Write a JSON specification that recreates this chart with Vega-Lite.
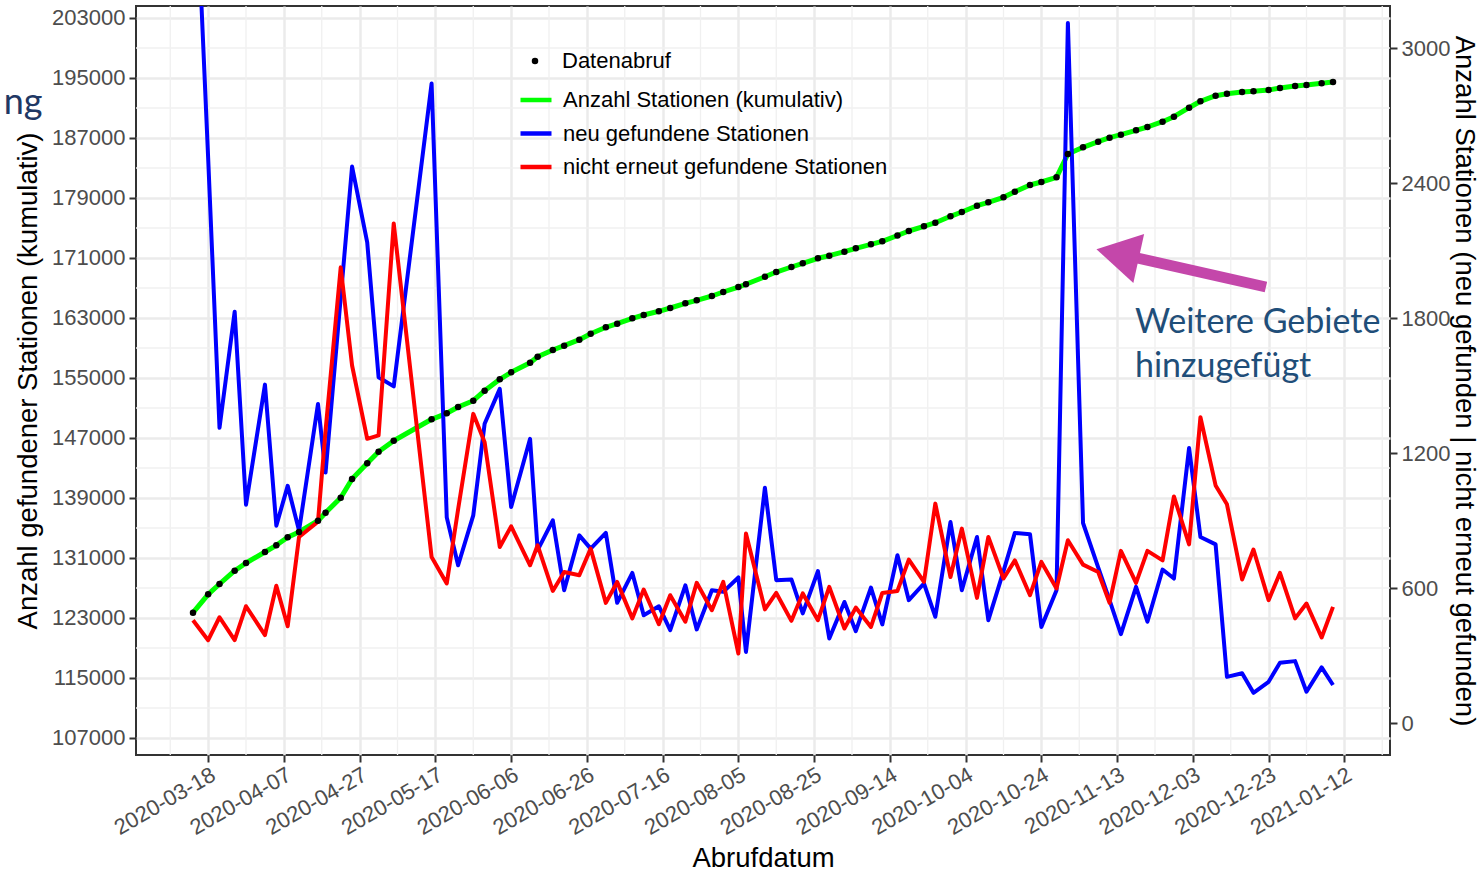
{
  "$schema": "https://vega.github.io/schema/vega-lite/v6.json",
  "width": 1254,
  "height": 749,
  "autosize": {"type": "none"},
  "padding": {"left": 136, "top": 6, "right": 91, "bottom": 119},
  "background": "white",
  "config": {
    "font": "Liberation Sans",
    "view": {"stroke": "#333333", "strokeWidth": 2},
    "axis": {
      "labelFont": "Liberation Sans", "labelFontSize": 22, "labelColor": "#4d4d4d",
      "tickColor": "#333333", "tickSize": 7, "tickWidth": 2, "domain": false,
      "titleFont": "Liberation Sans", "titleFontSize": 27.5, "titleFontWeight": "normal", "titleColor": "#000000",
      "gridColor": "#ebebeb", "gridWidth": 2.5
    },
    "legend": {
      "labelFont": "Liberation Sans", "labelFontSize": 22, "labelColor": "#000000", "padding": 0, "labelLimit": 0
    }
  },
  "datasets": {
    "stations": [
      {"date": "2020-03-14", "kum": 123707, "neu": 4050, "nicht": 457},
      {"date": "2020-03-18", "kum": 126160, "neu": 2512, "nicht": 368},
      {"date": "2020-03-21", "kum": 127533, "neu": 1312, "nicht": 470},
      {"date": "2020-03-25", "kum": 129307, "neu": 1828, "nicht": 368},
      {"date": "2020-03-28", "kum": 130333, "neu": 970, "nicht": 519},
      {"date": "2020-04-02", "kum": 131800, "neu": 1504, "nicht": 391},
      {"date": "2020-04-05", "kum": 132693, "neu": 877, "nicht": 610},
      {"date": "2020-04-08", "kum": 133760, "neu": 1054, "nicht": 430},
      {"date": "2020-04-11", "kum": 134467, "neu": 855, "nicht": 827},
      {"date": "2020-04-16", "kum": 135973, "neu": 1418, "nicht": 895},
      {"date": "2020-04-18", "kum": 137040, "neu": 1113, "nicht": 1300},
      {"date": "2020-04-22", "kum": 139040, "neu": 1891, "nicht": 2025},
      {"date": "2020-04-25", "kum": 141533, "neu": 2473, "nicht": 1589},
      {"date": "2020-04-29", "kum": 143627, "neu": 2136, "nicht": 1263},
      {"date": "2020-05-02", "kum": 145173, "neu": 1537, "nicht": 1278},
      {"date": "2020-05-06", "kum": 146640, "neu": 1496, "nicht": 2220},
      {"date": "2020-05-16", "kum": 149493, "neu": 2842, "nicht": 738},
      {"date": "2020-05-20", "kum": 150293, "neu": 914, "nicht": 620},
      {"date": "2020-05-23", "kum": 151133, "neu": 701, "nicht": 950},
      {"date": "2020-05-27", "kum": 151973, "neu": 923, "nicht": 1374},
      {"date": "2020-05-30", "kum": 153307, "neu": 1330, "nicht": 1248},
      {"date": "2020-06-03", "kum": 154827, "neu": 1485, "nicht": 782},
      {"date": "2020-06-06", "kum": 155760, "neu": 960, "nicht": 874},
      {"date": "2020-06-11", "kum": 157040, "neu": 1263, "nicht": 701},
      {"date": "2020-06-13", "kum": 157840, "neu": 768, "nicht": 790},
      {"date": "2020-06-17", "kum": 158733, "neu": 901, "nicht": 587},
      {"date": "2020-06-20", "kum": 159307, "neu": 590, "nicht": 671},
      {"date": "2020-06-24", "kum": 160107, "neu": 834, "nicht": 657},
      {"date": "2020-06-27", "kum": 160907, "neu": 775, "nicht": 775},
      {"date": "2020-07-01", "kum": 161760, "neu": 845, "nicht": 534},
      {"date": "2020-07-04", "kum": 162240, "neu": 534, "nicht": 627},
      {"date": "2020-07-08", "kum": 162960, "neu": 667, "nicht": 465},
      {"date": "2020-07-11", "kum": 163400, "neu": 479, "nicht": 593},
      {"date": "2020-07-15", "kum": 163893, "neu": 519, "nicht": 439},
      {"date": "2020-07-18", "kum": 164333, "neu": 413, "nicht": 568},
      {"date": "2020-07-22", "kum": 164960, "neu": 612, "nicht": 450},
      {"date": "2020-07-25", "kum": 165360, "neu": 416, "nicht": 623},
      {"date": "2020-07-29", "kum": 165933, "neu": 590, "nicht": 501},
      {"date": "2020-08-01", "kum": 166467, "neu": 583, "nicht": 627},
      {"date": "2020-08-05", "kum": 167133, "neu": 647, "nicht": 309},
      {"date": "2020-08-07", "kum": 167493, "neu": 316, "nicht": 842},
      {"date": "2020-08-12", "kum": 168507, "neu": 1046, "nicht": 505},
      {"date": "2020-08-15", "kum": 169133, "neu": 635, "nicht": 578},
      {"date": "2020-08-19", "kum": 169800, "neu": 638, "nicht": 454},
      {"date": "2020-08-22", "kum": 170293, "neu": 487, "nicht": 576},
      {"date": "2020-08-26", "kum": 170960, "neu": 675, "nicht": 457},
      {"date": "2020-08-29", "kum": 171307, "neu": 376, "nicht": 605},
      {"date": "2020-09-02", "kum": 171840, "neu": 538, "nicht": 420},
      {"date": "2020-09-05", "kum": 172293, "neu": 408, "nicht": 513},
      {"date": "2020-09-09", "kum": 172827, "neu": 602, "nicht": 427},
      {"date": "2020-09-12", "kum": 173227, "neu": 438, "nicht": 578},
      {"date": "2020-09-16", "kum": 174000, "neu": 746, "nicht": 587},
      {"date": "2020-09-19", "kum": 174600, "neu": 546, "nicht": 726},
      {"date": "2020-09-23", "kum": 175227, "neu": 620, "nicht": 627},
      {"date": "2020-09-26", "kum": 175707, "neu": 472, "nicht": 975},
      {"date": "2020-09-30", "kum": 176560, "neu": 893, "nicht": 649},
      {"date": "2020-10-03", "kum": 177133, "neu": 590, "nicht": 864},
      {"date": "2020-10-07", "kum": 177973, "neu": 827, "nicht": 556},
      {"date": "2020-10-10", "kum": 178427, "neu": 457, "nicht": 827},
      {"date": "2020-10-14", "kum": 179093, "neu": 675, "nicht": 642},
      {"date": "2020-10-17", "kum": 179840, "neu": 845, "nicht": 723},
      {"date": "2020-10-21", "kum": 180733, "neu": 839, "nicht": 568},
      {"date": "2020-10-24", "kum": 181133, "neu": 427, "nicht": 716},
      {"date": "2020-10-28", "kum": 181760, "neu": 590, "nicht": 598},
      {"date": "2020-10-31", "kum": 184867, "neu": 3111, "nicht": 812},
      {"date": "2020-11-04", "kum": 185760, "neu": 889, "nicht": 704},
      {"date": "2020-11-08", "kum": 186507, "neu": 692, "nicht": 671},
      {"date": "2020-11-11", "kum": 187040, "neu": 546, "nicht": 534},
      {"date": "2020-11-14", "kum": 187440, "neu": 395, "nicht": 765},
      {"date": "2020-11-18", "kum": 188027, "neu": 605, "nicht": 623},
      {"date": "2020-11-21", "kum": 188467, "neu": 450, "nicht": 765},
      {"date": "2020-11-25", "kum": 189173, "neu": 682, "nicht": 723},
      {"date": "2020-11-28", "kum": 189840, "neu": 642, "nicht": 1007},
      {"date": "2020-12-02", "kum": 191040, "neu": 1222, "nicht": 794},
      {"date": "2020-12-05", "kum": 191893, "neu": 827, "nicht": 1359},
      {"date": "2020-12-09", "kum": 192640, "neu": 794, "nicht": 1056},
      {"date": "2020-12-12", "kum": 192907, "neu": 205, "nicht": 972},
      {"date": "2020-12-16", "kum": 193133, "neu": 221, "nicht": 638},
      {"date": "2020-12-19", "kum": 193227, "neu": 134, "nicht": 771},
      {"date": "2020-12-23", "kum": 193400, "neu": 183, "nicht": 546},
      {"date": "2020-12-26", "kum": 193667, "neu": 268, "nicht": 667},
      {"date": "2020-12-30", "kum": 193933, "neu": 275, "nicht": 465},
      {"date": "2021-01-02", "kum": 194067, "neu": 139, "nicht": 531},
      {"date": "2021-01-06", "kum": 194293, "neu": 247, "nicht": 380},
      {"date": "2021-01-09", "kum": 194467, "neu": 169, "nicht": 516}
    ],
    "minor_x": [
      {"date": "2020-03-08"}, {"date": "2020-03-28"}, {"date": "2020-04-17"}, {"date": "2020-05-07"},
      {"date": "2020-05-27"}, {"date": "2020-06-16"}, {"date": "2020-07-06"}, {"date": "2020-07-26"},
      {"date": "2020-08-15"}, {"date": "2020-09-04"}, {"date": "2020-09-24"}, {"date": "2020-10-14"},
      {"date": "2020-11-03"}, {"date": "2020-11-23"}, {"date": "2020-12-13"}, {"date": "2021-01-02"},
      {"date": "2021-01-22"}
    ],
    "minor_y": [
      {"v": 111000}, {"v": 119000}, {"v": 127000}, {"v": 135000}, {"v": 143000}, {"v": 151000},
      {"v": 159000}, {"v": 167000}, {"v": 175000}, {"v": 183000}, {"v": 191000}, {"v": 199000}
    ],
    "one": [{}]
  },
  "resolve": {"scale": {"y": "independent"}},
  "layer": [
    {
      "layer": [
        {
          "data": {"name": "minor_x"},
          "mark": {"type": "rule", "color": "#f0f0f0", "strokeWidth": 1.3},
          "encoding": {
            "x": {"field": "date", "type": "temporal", "scale": {"type": "utc", "domain": [1582843680000, 1611450720000]}}
          }
        },
        {
          "data": {"name": "minor_y"},
          "mark": {"type": "rule", "color": "#f0f0f0", "strokeWidth": 1.3},
          "encoding": {
            "y": {"field": "v", "type": "quantitative", "scale": {"domain": [104733, 204600], "nice": false, "zero": false},
              "axis": {"orient": "left", "values": [107000, 115000, 123000, 131000, 139000, 147000, 155000, 163000, 171000, 179000, 187000, 195000, 203000], "format": "d", "title": "Anzahl gefundener Stationen (kumulativ)", "grid": true, "labelPadding": 4, "titlePadding": 9}}
          }
        },
        {
          "data": {"name": "stations"},
          "mark": {"type": "line", "strokeWidth": 5, "strokeJoin": "round", "clip": true},
          "encoding": {
            "x": {"field": "date", "type": "temporal", "scale": {"type": "utc", "domain": [1582843680000, 1611450720000]},
              "axis": {"values": [1584489600000, 1586217600000, 1587945600000, 1589673600000, 1591401600000, 1593129600000, 1594857600000, 1596585600000, 1598313600000, 1600041600000, 1601769600000, 1603497600000, 1605225600000, 1606953600000, 1608681600000, 1610409600000],
                "labelExpr": "utcFormat(datum.value, '%Y-%m-%d')", "labelAngle": -30, "labelAlign": "right", "labelBaseline": "top", "labelPadding": 2, "labelOverlap": false, "title": "Abrufdatum", "titlePadding": 6, "grid": true}},
            "y": {"field": "kum", "type": "quantitative", "scale": {"domain": [104733, 204600], "nice": false, "zero": false},
              "axis": {"orient": "left", "values": [107000, 115000, 123000, 131000, 139000, 147000, 155000, 163000, 171000, 179000, 187000, 195000, 203000], "format": "d", "title": "Anzahl gefundener Stationen (kumulativ)", "grid": true, "labelPadding": 4, "titlePadding": 9}},
            "color": {"datum": "Anzahl Stationen (kumulativ)", "type": "nominal",
              "scale": {"domain": ["Anzahl Stationen (kumulativ)", "neu gefundene Stationen", "nicht erneut gefundene Stationen"], "range": ["#00ff00", "#0000ff", "#ff0000"]},
              "legend": {"title": null, "orient": "none", "legendX": 382, "legendY": 76, "symbolType": "stroke", "symbolStrokeWidth": 4.5, "symbolSize": 961, "labelOffset": 9, "rowPadding": 4.5, "labelLimit": 0}}
          }
        }
      ]
    },
    {
      "data": {"name": "stations"},
      "layer": [
        {
          "mark": {"type": "line", "strokeWidth": 4, "strokeJoin": "round", "clip": true},
          "encoding": {
            "x": {"field": "date", "type": "temporal", "scale": {"type": "utc", "domain": [1582843680000, 1611450720000]}},
            "y": {"field": "neu", "type": "quantitative", "scale": {"domain": [-142.2, 3186.7], "nice": false, "zero": false},
              "axis": {"orient": "right", "values": [0, 600, 1200, 1800, 2400, 3000], "format": "d", "title": "Anzahl Stationen (neu gefunden | nicht erneut gefunden)", "grid": false, "labelPadding": 4, "titlePadding": 0}},
            "color": {"datum": "neu gefundene Stationen", "type": "nominal"}
          }
        },
        {
          "mark": {"type": "line", "strokeWidth": 4, "strokeJoin": "round", "clip": true},
          "encoding": {
            "x": {"field": "date", "type": "temporal", "scale": {"type": "utc", "domain": [1582843680000, 1611450720000]}},
            "y": {"field": "nicht", "type": "quantitative", "scale": {"domain": [-142.2, 3186.7], "nice": false, "zero": false},
              "axis": {"orient": "right", "values": [0, 600, 1200, 1800, 2400, 3000], "format": "d", "title": "Anzahl Stationen (neu gefunden | nicht erneut gefunden)", "grid": false, "labelPadding": 4, "titlePadding": 0}},
            "color": {"datum": "nicht erneut gefundene Stationen", "type": "nominal"}
          }
        }
      ]
    },
    {
      "layer": [
        {
          "data": {"name": "stations"},
          "mark": {"type": "point", "filled": true, "color": "#000000", "size": 42, "opacity": 1},
          "encoding": {
            "x": {"field": "date", "type": "temporal", "scale": {"type": "utc", "domain": [1582843680000, 1611450720000]}},
            "y": {"field": "kum", "type": "quantitative", "scale": {"domain": [104733, 204600], "nice": false, "zero": false}, "axis": null},
            "shape": {"datum": "Datenabruf", "type": "nominal", "scale": {"domain": ["Datenabruf"], "range": ["circle"]},
              "legend": {"title": null, "orient": "none", "legendX": 388, "legendY": 44, "symbolSize": 42, "symbolFillColor": "#000000", "symbolStrokeWidth": 0, "labelOffset": 16}}
          }
        },
        {
          "data": {"name": "one"},
          "mark": {"type": "rule", "color": "#c447aa", "strokeWidth": 11, "strokeCap": "butt"},
          "encoding": {
            "x": {"datum": {"year": 2020, "month": 12, "date": 22, "hours": 7, "utc": true}, "type": "temporal", "scale": {"type": "utc", "domain": [1582843680000, 1611450720000]}},
            "x2": {"datum": {"year": 2020, "month": 11, "date": 13, "hours": 0, "utc": true}},
            "y": {"datum": 167133, "type": "quantitative", "scale": {"domain": [104733, 204600], "nice": false, "zero": false}, "axis": null},
            "y2": {"datum": 171600}
          }
        },
        {
          "data": {"name": "one"},
          "mark": {"type": "point", "shape": "triangle-up", "filled": true, "color": "#c447aa", "size": 2500, "angle": 282.4, "opacity": 1},
          "encoding": {
            "x": {"datum": {"year": 2020, "month": 11, "date": 13, "hours": 3, "utc": true}, "type": "temporal", "scale": {"type": "utc", "domain": [1582843680000, 1611450720000]}},
            "y": {"datum": 171550, "type": "quantitative", "scale": {"domain": [104733, 204600], "nice": false, "zero": false}, "axis": null}
          }
        },
        {
          "data": {"name": "one"},
          "mark": {"type": "text", "text": ["Weitere Gebiete", "hinzugefügt"], "font": "Lato", "fontSize": 34, "color": "#1f4e79", "align": "left", "baseline": "alphabetic", "lineHeight": 44},
          "encoding": {
            "x": {"datum": {"year": 2020, "month": 11, "date": 17, "hours": 17, "utc": true}, "type": "temporal", "scale": {"type": "utc", "domain": [1582843680000, 1611450720000]}},
            "y": {"datum": 161000, "type": "quantitative", "scale": {"domain": [104733, 204600], "nice": false, "zero": false}, "axis": null}
          }
        },
        {
          "data": {"name": "one"},
          "mark": {"type": "text", "text": "ng", "font": "Lato", "fontSize": 36, "color": "#1f3864", "align": "left", "baseline": "alphabetic"},
          "encoding": {
            "x": {"datum": {"year": 2020, "month": 1, "date": 24, "hours": 0, "utc": true}, "type": "temporal", "scale": {"type": "utc", "domain": [1582843680000, 1611450720000]}},
            "y": {"datum": 190200, "type": "quantitative", "scale": {"domain": [104733, 204600], "nice": false, "zero": false}, "axis": null}
          }
        }
      ]
    }
  ]
}
